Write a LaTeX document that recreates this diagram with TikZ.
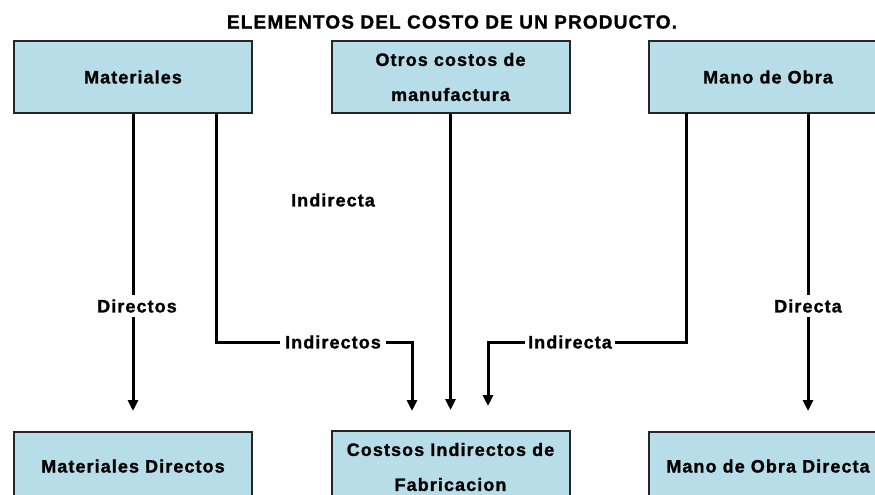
\documentclass[tikz,border=0pt]{standalone}
\usepackage{fontspec}
\setmainfont{Liberation Sans}[BoldFeatures={LetterSpace=6,FakeBold=1.2}]
\usetikzlibrary{arrows.meta}
\definecolor{boxblue}{HTML}{B7DDE8}
\tikzset{
  box/.style={draw=black!85, line width=2pt, fill=boxblue, minimum width=238pt, minimum height=72pt, inner sep=0pt, align=center, font=\fontsize{18}{35}\selectfont\bfseries},
  conn/.style={line width=3pt, black},
  arr/.style={conn, -{Triangle[width=10pt,length=11pt]}},
  lbl/.style={fill=white, inner sep=4pt, font=\fontsize{18}{20}\selectfont\bfseries},
}
\begin{document}
\begin{tikzpicture}[x=1pt,y=-1pt]
\useasboundingbox (0,0) rectangle (875,495);
\clip (0,0) rectangle (875,495);
\node[font=\fontsize{19}{20}\selectfont\bfseries] (title) at (452,22) {ELEMENTOS DEL COSTO DE UN PRODUCTO.};
\node[box] (mat) at (133,77) {Materiales};
\node[box] (otros) at (450.5,77) {Otros costos de\\manufactura};
\node[box] (mano) at (768,77) {Mano de Obra};
\node[box] (matd) at (133,468) {\raisebox{4pt}{Materiales Directos}};
\node[box] (cif) at (450.5,467) {Costsos Indirectos de\\Fabricacion};
\node[box] (mod) at (768,468) {\raisebox{4pt}{Mano de Obra Directa}};
% coordinates
\coordinate (m1) at (216,113);
\coordinate (m1b) at (216,342);
\coordinate (c1) at (412,342);
\coordinate (t1) at (412,411);
\coordinate (o1) at (686,113);
\coordinate (o1b) at (686,342);
\coordinate (c2) at (488,342);
\coordinate (t2) at (488,406);
\coordinate (o2) at (808,113);
\coordinate (t3) at (808,411);
% connectors
\draw[arr, shorten >=20pt] (mat) -- (matd);
\draw[arr, shorten >=20pt] (otros) -- (cif);
\draw[arr] (m1) -- (m1b) -- (c1) -- (t1);
\draw[arr] (o1) -- (o1b) -- (c2) -- (t2);
\draw[arr] (o2) -- (t3);
% labels
\node[lbl] at (137,306) {Directos};
\node[lbl] at (808,306) {Directa};
\node[lbl, inner sep=5pt] at (333,342) {Indirectos};
\node[lbl, inner sep=3pt] at (570,342) {Indirecta};
\node[lbl] at (333,200) {Indirecta};
\end{tikzpicture}
\end{document}
